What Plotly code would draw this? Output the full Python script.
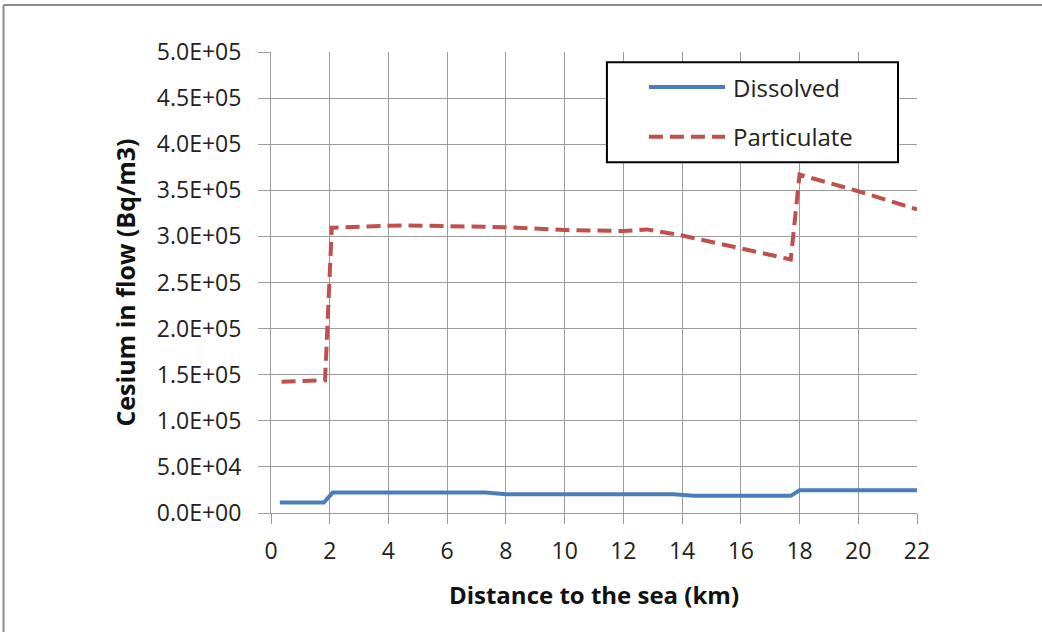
import plotly.graph_objects as go

# Distance to the sea (km) and cesium concentration (Bq/m3)
dissolved_x = [0.3, 1.8, 2.1, 7.3, 8.0, 13.7, 14.4, 17.7, 18.0, 22.0]
dissolved_y = [11400, 11400, 22100, 22100, 20400, 20400, 18600, 18600, 24600, 24600]

particulate_x = [0.36, 1.84, 2.07, 4.5, 8.0, 10.0, 12.0, 12.8, 14.0, 16.0, 17.7, 18.0, 20.0, 22.0]
particulate_y = [142400, 144000, 309500, 312000, 310000, 307000, 305800, 307600, 301000,
                 286600, 275000, 367000, 349000, 329300]

series_names = ["Dissolved", "Particulate"]

y_tickvals = [0, 50000, 100000, 150000, 200000, 250000, 300000, 350000, 400000, 450000, 500000]
y_ticktext = ["0.0E+00", "5.0E+04", "1.0E+05", "1.5E+05", "2.0E+05", "2.5E+05",
              "3.0E+05", "3.5E+05", "4.0E+05", "4.5E+05", "5.0E+05"]
x_tickvals = [0, 2, 4, 6, 8, 10, 12, 14, 16, 18, 20, 22]

FONT = "'Open Sans', 'Noto Sans', sans-serif"
GRID = "#9c9c9c"
TEXT = "#222222"
BLUE = "#4a7ebb"
RED = "#c0504d"
RED_DASH = "14px,7px"

fig = go.Figure()
fig.add_trace(go.Scatter(
    x=dissolved_x, y=dissolved_y, mode="lines", name=series_names[0],
    line=dict(color=BLUE, width=4),
))
fig.add_trace(go.Scatter(
    x=particulate_x, y=particulate_y, mode="lines", name=series_names[1],
    line=dict(color=RED, width=4, dash=RED_DASH),
))

# Boxed legend drawn in paper coordinates (longer line samples than the built-in one)
legend_box = dict(type="rect", xref="paper", yref="paper",
                  x0=0.520, x1=0.9706, y0=0.761, y1=0.978,
                  line=dict(color="#000000", width=2), fillcolor="white", layer="above")
legend_rows = [0.924, 0.816]
legend_styles = [dict(color=BLUE, width=4), dict(color=RED, width=4, dash=RED_DASH)]

shapes = [
    # chart frame along the top and left edges of the page
    dict(type="line", xref="paper", yref="paper",
         x0=-0.414, x1=1.25, y0=1.102, y1=1.102,
         line=dict(color="#8c8c8c", width=2)),
    dict(type="line", xref="paper", yref="paper",
         x0=-0.414, x1=-0.414, y0=1.102, y1=-0.3,
         line=dict(color="#8c8c8c", width=2)),
    legend_box,
]
annotations = []
for name, row, style in zip(series_names, legend_rows, legend_styles):
    shapes.append(dict(type="line", xref="paper", yref="paper",
                       x0=0.585, x1=0.703, y0=row, y1=row,
                       line=style, layer="above"))
    annotations.append(dict(xref="paper", yref="paper", x=0.712, y=row,
                            xanchor="left", yanchor="middle", showarrow=False,
                            text=name, font=dict(family=FONT, size=24, color=TEXT)))

fig.update_layout(
    width=1042, height=632,
    margin=dict(l=271, r=125, t=52, b=119),
    paper_bgcolor="white", plot_bgcolor="white",
    font=dict(family=FONT, size=23, color=TEXT),
    showlegend=False,
    xaxis=dict(
        range=[0, 22], tickvals=x_tickvals,
        showgrid=True, gridcolor=GRID, gridwidth=1,
        showline=True, linecolor=GRID, linewidth=1,
        ticks="outside", ticklen=10, tickcolor=GRID,
        ticklabelstandoff=7,
        tickfont=dict(family=FONT, size=23, color=TEXT),
        zeroline=False,
        title=dict(text="<b>Distance to the sea (km)</b>",
                   font=dict(family=FONT, size=24, color="#111111"), standoff=22),
    ),
    yaxis=dict(
        range=[0, 500000], tickvals=y_tickvals, ticktext=y_ticktext,
        showgrid=True, gridcolor=GRID, gridwidth=1,
        showline=True, linecolor=GRID, linewidth=1,
        ticks="outside", ticklen=12, tickcolor=GRID,
        ticklabelstandoff=12,
        tickfont=dict(family=FONT, size=23, color=TEXT),
        zeroline=False,
        title=dict(text="<b>Cesium in flow (Bq/m3)</b>",
                   font=dict(family=FONT, size=25, color="#111111"), standoff=14),
    ),
    shapes=shapes,
    annotations=annotations,
)

fig.write_html("out.html")
